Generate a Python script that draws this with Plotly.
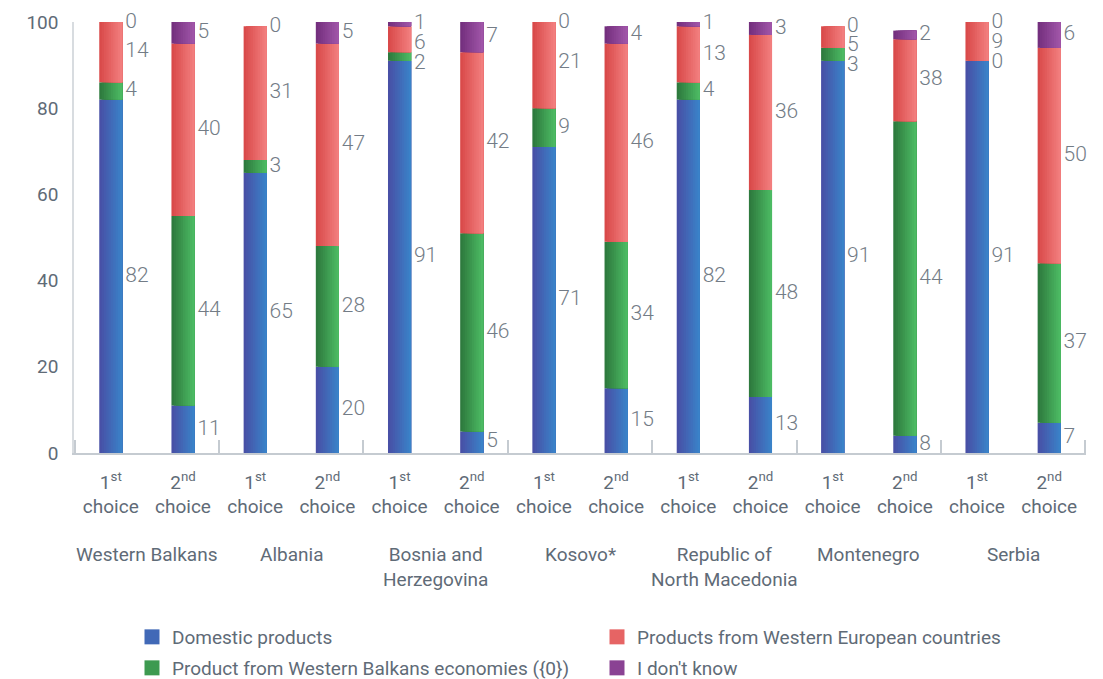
import plotly.graph_objects as go

groups = ["Western Balkans", "Albania", "Bosnia and<br>Herzegovina", "Kosovo*",
          "Republic of<br>North Macedonia", "Montenegro", "Serbia"]
choice_labels = ["1<sup>st</sup><br>choice", "2<sup>nd</sup><br>choice"]

# values printed next to the segments
domestic = [82, 11, 65, 20, 91, 5, 71, 15, 82, 13, 91, 8, 91, 7]
wb_econ = [4, 44, 3, 28, 2, 46, 9, 34, 4, 48, 3, 44, 0, 37]
west_eu = [14, 40, 31, 47, 6, 42, 21, 46, 13, 36, 5, 38, 9, 50]
dont_know = [0, 5, 0, 5, 1, 7, 0, 4, 1, 3, 0, 2, 0, 6]

# segment heights as drawn (differ from the printed values for Montenegro 2nd)
domestic_bar = [82, 11, 65, 20, 91, 5, 71, 15, 82, 13, 91, 4, 91, 7]
wb_econ_bar = [4, 44, 3, 28, 2, 46, 9, 34, 4, 48, 3, 73, 0, 37]
west_eu_bar = [14, 40, 31, 47, 6, 42, 21, 46, 13, 36, 5, 19, 9, 50]
dont_know_bar = [0, 5, 0, 5, 1, 7, 0, 4, 1, 3, 0, 2, 0, 6]

series_names = ["Domestic products", "Product from Western Balkans economies ({0})",
                "Products from Western European countries", "I don't know"]
series_lbl = [domestic, wb_econ, west_eu, dont_know]
series_bar = [domestic_bar, wb_econ_bar, west_eu_bar, dont_know_bar]
legend_of = ["legend", "legend2", "legend", "legend2"]
grad = [((72, 80, 166), (58, 130, 200)),
        ((46, 122, 62), (76, 186, 99)),
        ((217, 74, 74), (242, 126, 126)),
        ((116, 48, 126), (160, 85, 168))]

x = list(range(len(domestic)))
tick_text = choice_labels * len(groups)
TXT = "#5f6b77"
BW = 0.32
N = 10

# label positions: segment centres, nudged apart near the top of each column
bases, mids = [], []
base = [0] * len(x)
for vals in series_bar:
    bases.append(base)
    mids.append([b + v / 2 for b, v in zip(base, vals)])
    base = [b + v for b, v in zip(base, vals)]
label_y = [list(m) for m in mids]
for i in range(len(x)):
    prev = 99.8
    for si in range(3, -1, -1):
        label_y[si][i] = min(mids[si][i], prev)
        prev = label_y[si][i] - 4.6

fig = go.Figure()
for si in range(4):
    vals, lbls = series_bar[si], series_lbl[si]
    c0, c1 = grad[si]
    for k in range(N):
        t = k / (N - 1)
        col = "rgb(%d,%d,%d)" % tuple(round(c0[j] + (c1[j] - c0[j]) * t) for j in range(3))
        w = BW * (N - k) / N
        fig.add_trace(go.Bar(
            x=x, y=vals, base=bases[si], width=w, offset=BW / 2 - w,
            marker=dict(color=col, line=dict(width=0)),
            showlegend=False, hoverinfo="skip"))
    midc = "rgb(%d,%d,%d)" % tuple(round((c0[j] + c1[j]) / 2) for j in range(3))
    fig.add_trace(go.Scatter(
        x=[None], y=[None], mode="markers", name=series_names[si],
        marker=dict(symbol="square", size=15, color=midc),
        legend=legend_of[si], hoverinfo="skip"))
    fig.add_trace(go.Scatter(
        x=[xi + BW / 2 + 0.04 for xi in x], y=label_y[si], mode="text",
        text=[str(v) for v in lbls], textposition="middle right",
        textfont=dict(size=21, color="#737c86", family="Roboto", weight=300),
        cliponaxis=False, showlegend=False, hoverinfo="skip"))

for gi, g in enumerate(groups):
    fig.add_annotation(x=2 * gi + 0.5, xref="x", y=0, yref="paper", yanchor="top",
                       yshift=-88, text=g, showarrow=False,
                       font=dict(size=19, color=TXT, family="Roboto"))

W, H = 1103, 679
leg_common = dict(orientation="h", xref="container", yref="container",
                  xanchor="left", yanchor="middle",
                  entrywidth=420, entrywidthmode="pixels",
                  font=dict(size=19, color=TXT, family="Roboto"),
                  bgcolor="rgba(0,0,0,0)")

fig.update_layout(
    barmode="overlay",
    width=W, height=H,
    margin=dict(l=74, r=17, t=22, b=226),
    plot_bgcolor="white", paper_bgcolor="white",
    font=dict(family="Roboto", color=TXT),
    xaxis=dict(range=[-0.51, 13.51], tickvals=x, ticktext=tick_text,
               tickfont=dict(size=19, color=TXT), showgrid=False, zeroline=False,
               showline=True, linecolor="#c5cbd1", linewidth=1.5, ticks="",
               ticklabelstandoff=11,
               minor=dict(tick0=-0.5, dtick=2, ticks="inside", ticklen=13,
                          tickcolor="#c5cbd1", tickwidth=1.5, showgrid=False)),
    yaxis=dict(range=[0, 100], tickvals=[0, 20, 40, 60, 80, 100],
               tickfont=dict(size=19, color=TXT), showgrid=False, zeroline=False,
               showline=True, linecolor="#d8dce0", linewidth=1.5, ticks="",
               ticklabelstandoff=10),
    legend=dict(x=132 / W, y=1 - 637 / H, **leg_common),
    legend2=dict(x=132 / W, y=1 - 668 / H, **leg_common),
)

fig.write_html("out.html", config={"displayModeBar": False},
               post_script="document.body.style.margin='0';")
